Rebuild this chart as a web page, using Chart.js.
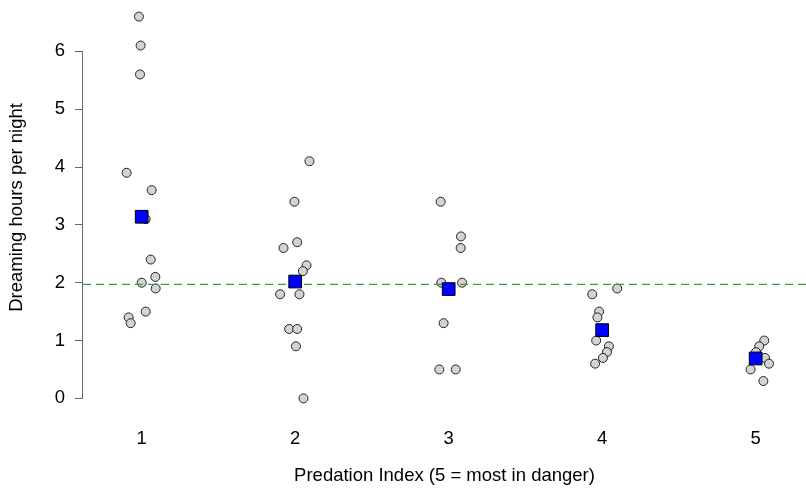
<!DOCTYPE html>
<html>
<head>
<meta charset="utf-8">
<script src="https://cdn.jsdelivr.net/npm/chart.js@4.4.1/dist/chart.umd.min.js"></script>
<style>
  body { margin: 0; background: #fff; }
  #grafico { display: block; }
</style>
</head>
<body>
<canvas id="grafico" width="806" height="488"></canvas>
<script>
/* ===== DADOS ===== */
const categorias = [1, 2, 3, 4, 5];
const y_ticks = [0, 1, 2, 3, 4, 5, 6];

// horas de sono com sonho, por indice de predacao
const sonho_pred1 = [6.6, 6.1, 5.6, 3.9, 3.6, 3.1, 2.4, 2.1, 2.0, 1.9, 1.5, 1.4, 1.3];
const sonho_pred2 = [4.1, 3.4, 2.7, 2.6, 2.3, 2.2, 1.8, 1.8, 1.2, 1.2, 0.9, 0.0];
const sonho_pred3 = [3.4, 2.8, 2.6, 2.0, 2.0, 1.3, 0.5, 0.5];
const sonho_pred4 = [1.9, 1.8, 1.5, 1.4, 1.0, 0.9, 0.8, 0.7, 0.6];
const sonho_pred5 = [1.0, 0.9, 0.8, 0.7, 0.6, 0.5, 0.3];

// jitter horizontal de cada ponto (stripchart)
const jitter_pred1 = [-0.018, -0.007, -0.011, -0.098, 0.065, 0.026, 0.059, 0.089, 0.0, 0.091, 0.026, -0.085, -0.072];
const jitter_pred2 = [0.093, -0.005, 0.013, -0.076, 0.074, 0.050, -0.098, 0.028, -0.039, 0.013, 0.005, 0.054];
const jitter_pred3 = [-0.052, 0.080, 0.078, -0.048, 0.087, -0.033, -0.061, 0.046];
const jitter_pred4 = [0.098, -0.065, -0.020, -0.031, -0.039, 0.044, 0.031, 0.005, -0.046];
const jitter_pred5 = [0.056, 0.023, 0.002, 0.061, 0.087, -0.033, 0.050];

const medias_grupo = [3.14, 2.02, 1.89, 1.18, 0.69];
const media_geral = 1.97;

/* ===== ESCALAS ===== */
const x_min = 0.6176;
const x_max = 5.328;
const y_min = -0.27;
const y_max = 6.87;

const fonte = { family: "'Liberation Sans', Arial, sans-serif", size: 18.5 };

/* ===== PONTOS ===== */
const sonhos = [sonho_pred1, sonho_pred2, sonho_pred3, sonho_pred4, sonho_pred5];
const jitters = [jitter_pred1, jitter_pred2, jitter_pred3, jitter_pred4, jitter_pred5];

const pontos = [];
categorias.forEach((cat, i) => {
  sonhos[i].forEach((v, j) => pontos.push({ x: cat + jitters[i][j], y: v }));
});

const pontos_media = categorias.map((cat, i) => ({ x: cat, y: medias_grupo[i] }));

// linha do eixo y so entre o primeiro e o ultimo tick (estilo R)
const linha_eixo_y = {
  id: 'linha_eixo_y',
  afterDraw(chart) {
    const esc = chart.scales.y;
    const ctx = chart.ctx;
    const x = Math.round(esc.right) - 0.5;
    ctx.save();
    ctx.strokeStyle = '#666';
    ctx.lineWidth = 1;
    ctx.beginPath();
    ctx.moveTo(x, Math.round(esc.getPixelForValue(y_ticks[0])) + 0.5);
    ctx.lineTo(x, Math.round(esc.getPixelForValue(y_ticks[y_ticks.length - 1])) + 0.5);
    ctx.stroke();
    ctx.restore();
  }
};

// sem folga extra para os rotulos: a area do grafico fica fixa
function sem_padding(esc) {
  esc.paddingTop = 0;
  esc.paddingBottom = 0;
  esc.paddingLeft = 0;
  esc.paddingRight = 0;
}

const grafico_ctx = document.getElementById('grafico');

const chart = new Chart(grafico_ctx, {
  type: 'scatter',
  data: {
    datasets: [
      {
        label: 'Media do grupo',
        data: pontos_media,
        pointStyle: 'rect',
        pointRadius: 9,
        backgroundColor: '#0000ff',
        borderColor: '#000',
        borderWidth: 1
      },
      {
        label: 'Media geral',
        type: 'line',
        data: [{ x: x_min, y: media_geral }, { x: x_max, y: media_geral }],
        borderColor: '#3f9a3f',
        borderWidth: 1.3,
        borderDash: [8, 5],
        pointRadius: 0,
        fill: false
      },
      {
        label: 'Sonho',
        data: pontos,
        pointStyle: 'circle',
        pointRadius: 4.5,
        backgroundColor: '#d3d3d3',
        borderColor: '#222',
        borderWidth: 1
      }
    ]
  },
  options: {
    responsive: false,
    animation: false,
    layout: { autoPadding: false, padding: { top: 1, right: 0, bottom: 0, left: 0 } },
    plugins: {
      legend: { display: false },
      tooltip: { enabled: false }
    },
    scales: {
      x: {
        type: 'linear',
        min: x_min,
        max: x_max,
        afterBuildTicks: (esc) => { esc.ticks = categorias.map(v => ({ value: v })); },
        afterFit: (esc) => { esc.height = 74; sem_padding(esc); },
        grid: { display: false },
        border: { display: false },
        ticks: { font: fonte, color: '#000', padding: 6, maxRotation: 0 },
        title: {
          display: true,
          text: 'Predation Index (5 = most in danger)',
          font: fonte,
          color: '#000',
          padding: { top: 4, bottom: 1 }
        }
      },
      y: {
        min: y_min,
        max: y_max,
        afterBuildTicks: (esc) => { esc.ticks = y_ticks.map(v => ({ value: v })); },
        afterFit: (esc) => { esc.width = 83; sem_padding(esc); },
        grid: {
          drawOnChartArea: false,
          drawTicks: true,
          tickLength: 8,
          color: '#666'
        },
        border: { display: false },
        ticks: { font: fonte, color: '#000', padding: 10 },
        title: {
          display: true,
          text: 'Dreaming hours per night',
          font: fonte,
          color: '#000',
          padding: { top: 6, bottom: 0 }
        }
      }
    }
  },
  plugins: [linha_eixo_y]
});
</script>
</body>
</html>
